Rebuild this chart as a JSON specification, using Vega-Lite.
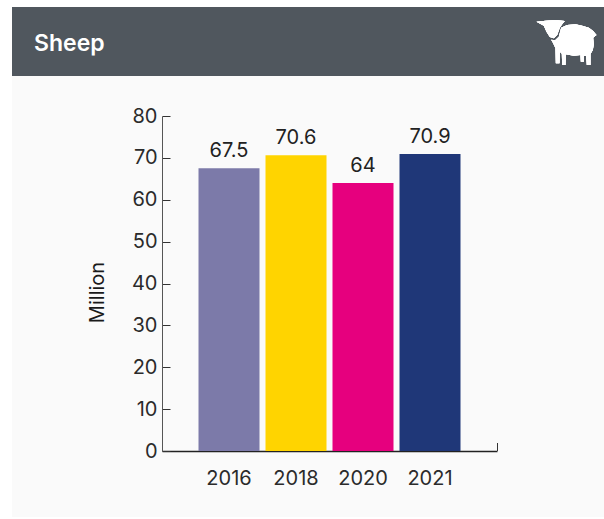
{
"$schema":"https://vega.github.io/schema/vega-lite/v6.json",
"width":592,"height":510,
"autosize":{"type":"none"},
"padding":{"left":12,"top":7,"right":0,"bottom":2},
"background":"#ffffff",
"view":{"fill":"#fafafa","stroke":null},
"title":{"text":"Sheep","orient":"top","anchor":"start","frame":"group","offset":-49,"dx":22,"color":"#ffffff","fontSize":23,"fontWeight":600,"font":"Inter"},
"data":{"values":[
{"year":"2016","million":67.5,"label":"67.5"},
{"year":"2018","million":70.6,"label":"70.6"},
{"year":"2020","million":64,"label":"64"},
{"year":"2021","million":70.9,"label":"70.9"}]},
"encoding":{
"x":{"field":"year","type":"ordinal","sort":null,
"scale":{"range":[150,485],"paddingInner":0.0896,"paddingOuter":0.5448},
"axis":{"title":null,"labelAngle":0,"offset":-66,"ticks":false,"labelPadding":17,"labelFontSize":20,"labelFont":"Inter","labelColor":"#2b2b2b","domainColor":"#222222","domainWidth":1.5}}
},
"layer":[
{"mark":{"type":"rect","fill":"#50575e"},"encoding":{"x":{},"y":{"datum":106.03,"type":"quantitative","scale":{"domain":[0,80],"range":[444,109]},
"axis":{"title":"Million","values":[0,10,20,30,40,50,60,70,80],"offset":-150,"grid":false,"tickSize":-8,"labelPadding":13,"labelFontSize":20,"labelFont":"Inter","labelColor":"#2b2b2b","tickColor":"#333333","domainColor":"#555555","titleFontSize":20,"titleFont":"Inter","titleFontWeight":"normal","titleColor":"#1a1a1a","titleX":-55,"titleY":285}},"y2":{"datum":89.55}}},
{"mark":{"type":"bar"},
"encoding":{
"y":{"field":"million","type":"quantitative"},
"color":{"field":"year","type":"nominal","legend":null,"scale":{"domain":["2016","2018","2020","2021"],"range":["#7c7aa9","#ffd400","#e6007e","#1f3778"]}}}},
{"mark":{"type":"text","dy":-7,"baseline":"bottom","fontSize":20,"font":"Inter","color":"#222222"},
"encoding":{"y":{"field":"million","type":"quantitative"},"text":{"field":"label"}}},
{"mark":{"type":"point","shape":"M67.5 0 L67.5 -8","size":4,"stroke":"#333333","strokeWidth":1,"filled":false,"opacity":1},
"encoding":{"x":{"datum":"2021"},"y":{"datum":0}}},
{"mark":{"type":"point","shape":"M319.5 -283 l27 -3 30 -2 28 3 -8 10 -7 10 -8 22 -10 10 -12 -4 -10 -16 -8 -18 z M393.5 -265 l18 -8 25 -2 20 4 20 6 13 10 10 12 -10 8 2 20 -3 17 -7 12 0 33 -11 0 -2 -28 -7 0 0 18 -9 0 -1 -20 -20 2 -24 -4 -1 32 -10 0 -1 -34 -6 -6 -1 35 -11 0 -1 -45 -7 -15 -6 -11 12 2 11 -11 z","size":0.4444,"fill":"#ffffff","filled":true,"opacity":1,"strokeWidth":0},
"encoding":{"x":{"datum":"2021"},"y":{"datum":80}}}
]
}
